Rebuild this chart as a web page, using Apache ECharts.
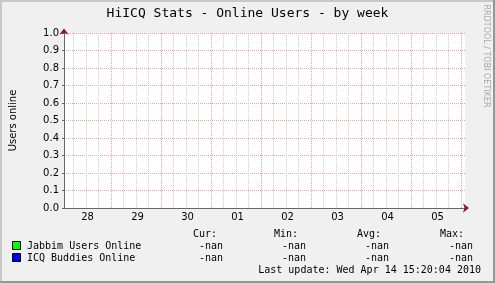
<!DOCTYPE html>
<html>
<head>
<meta charset="utf-8">
<script src="https://cdn.jsdelivr.net/npm/echarts@6/dist/echarts.min.js"></script>
<style>
html,body{margin:0;padding:0;background:#F0F0F0;}
#c{width:495px;height:283px;}
</style>
</head>
<body>
<div id="c"></div>
<script>
// ---- data (x in days from the first midnight shown) ----
const titleText = 'HiICQ Stats - Online Users - by week';
const yAxisName = 'Users online';
const xMin = 0.06;
const xMax = 8.08;
const xLabels = ['28', '29', '30', '01', '02', '03', '04', '05'];
const xLabelPos = [0.53, 1.53, 2.53, 3.53, 4.53, 5.53, 6.53, 7.53];
const dayTicks = [1, 2, 3, 4, 5, 6, 7, 8];
const minorTicks = [0.25, 0.5, 0.75, 1.25, 1.5, 1.75, 2.25, 2.5, 2.75, 3.25, 3.5, 3.75,
  4.25, 4.5, 4.75, 5.25, 5.5, 5.75, 6.25, 6.5, 6.75, 7.25, 7.5, 7.75];
const yMin = 0, yMax = 1, yStep = 0.1;
const seriesNames = ['Jabbim Users Online', 'ICQ Buddies Online'];
const seriesColors = ['#00ff00', '#0000ff'];
const jabbimValues = [];   // all values are NaN
const icqValues = [];      // all values are NaN
const statHeaders = ['Cur:', 'Min:', 'Avg:', 'Max:'];
const jabbimStats = ['-nan', '-nan', '-nan', '-nan'];
const icqStats = ['-nan', '-nan', '-nan', '-nan'];
const lastUpdate = 'Last update: Wed Apr 14 15:20:04 2010';
const watermark = 'RRDTOOL / TOBI OETIKER';

// ---- layout ----
const MONO = 'DejaVu Sans Mono';
const SANS = 'DejaVu Sans';
const headerRight = [217, 298, 381, 464];
const valueRight = [223, 306, 389, 473];
const rowsY = [246, 258];
const statsRows = [jabbimStats, icqStats];

const chart = echarts.init(document.getElementById('c'), null, {renderer: 'canvas'});

const graphics = [];
// 3D-ish border
graphics.push({type: 'rect', shape: {x: 0, y: 0, width: 495, height: 2}, style: {fill: '#C8C8C8'}, z: 100});
graphics.push({type: 'rect', shape: {x: 0, y: 0, width: 2, height: 283}, style: {fill: '#C8C8C8'}, z: 100});
graphics.push({type: 'rect', shape: {x: 0, y: 281, width: 495, height: 2}, style: {fill: '#969696'}, z: 101});
graphics.push({type: 'rect', shape: {x: 493, y: 0, width: 2, height: 283}, style: {fill: '#969696'}, z: 101});
// title
graphics.push({type: 'text', x: 247.5, y: 14, style: {text: titleText, font: '13px "' + MONO + '"', fill: '#000', align: 'center', verticalAlign: 'middle'}});
// watermark
graphics.push({type: 'text', x: 486, y: 56, rotation: -Math.PI / 2, style: {text: watermark, font: '8px "' + SANS + '"', fill: '#a8a8a8', align: 'center', verticalAlign: 'middle'}});
// stat headers
statHeaders.forEach((h, i) => {
  graphics.push({type: 'text', x: headerRight[i], y: 234, style: {text: h, font: '10px "' + MONO + '"', fill: '#000', align: 'right', verticalAlign: 'middle'}});
});
// legend rows
seriesNames.forEach((name, r) => {
  graphics.push({type: 'rect', shape: {x: 12.5, y: rowsY[r] - 4.5, width: 8, height: 8}, style: {fill: seriesColors[r], stroke: '#000', lineWidth: 1}});
  graphics.push({type: 'text', x: 27, y: rowsY[r], style: {text: name, font: '10px "' + MONO + '"', fill: '#000', align: 'left', verticalAlign: 'middle'}});
  statsRows[r].forEach((v, i) => {
    graphics.push({type: 'text', x: valueRight[i], y: rowsY[r], style: {text: v, font: '10px "' + MONO + '"', fill: '#000', align: 'right', verticalAlign: 'middle'}});
  });
});
graphics.push({type: 'text', x: 481, y: 270, style: {text: lastUpdate, font: '10px "' + MONO + '"', fill: '#000', align: 'right', verticalAlign: 'middle'}});

const gridSeries = (ticks, color) => ({
  type: 'line', xAxisIndex: 0, yAxisIndex: 0, data: [], silent: true, z: 1,
  markLine: {
    silent: true, symbol: ['none', 'none'], animation: false,
    label: {show: false},
    lineStyle: {color: color, width: 1, type: [1, 1]},
    emphasis: {disabled: true},
    data: ticks.map(v => ({xAxis: v}))
  }
});

const option = {
  backgroundColor: '#F0F0F0',
  animation: false,
  grid: {left: 64, right: 30, top: 33, bottom: 75, show: true, backgroundColor: '#ffffff', borderWidth: 0,
         containLabel: false, outerBoundsMode: 'none'},
  xAxis: [
    {
      type: 'value', min: xMin, max: xMax, position: 'bottom',
      axisLine: {show: true, onZero: false, lineStyle: {color: '#666666', width: 1}},
      axisTick: {show: false},
      splitLine: {show: false},
      axisLabel: {
        customValues: xLabelPos,
        formatter: (v) => { const i = xLabelPos.findIndex(p => Math.abs(p - v) < 1e-6); return i >= 0 ? xLabels[i] : ''; },
        fontFamily: SANS, fontSize: 10, color: '#000', margin: 4
      },
      z: 3
    },
    {
      type: 'value', min: xMin, max: xMax, position: 'bottom',
      axisLine: {show: true, onZero: false, symbol: ['none', 'arrow'], symbolSize: [7, 6], symbolOffset: [0, 4], lineStyle: {color: '#8b1a1a', width: 0}},
      axisLabel: {show: false}, axisTick: {show: false}, splitLine: {show: false},
      z: 3
    }
  ],
  yAxis: [
    {
      type: 'value', min: yMin, max: yMax, interval: yStep, position: 'left',
      name: yAxisName, nameLocation: 'middle', nameGap: 46,
      nameTextStyle: {fontFamily: SANS, fontSize: 10, color: '#000'},
      axisLine: {show: true, onZero: false, lineStyle: {color: '#666666', width: 1}},
      axisTick: {show: true, length: 2, lineStyle: {color: '#666666'}},
      axisLabel: {formatter: (v) => v.toFixed(1), fontFamily: SANS, fontSize: 10, color: '#000', margin: 5},
      splitLine: {show: true, lineStyle: {color: '#eea0a0', width: 1, type: [1, 1]}},
      z: 3
    },
    {
      type: 'value', min: yMin, max: yMax, position: 'left',
      axisLine: {show: true, onZero: false, symbol: ['none', 'arrow'], symbolSize: [7, 6], symbolOffset: [0, 4.5], lineStyle: {color: '#8b1a1a', width: 0}},
      axisLabel: {show: false}, axisTick: {show: false}, splitLine: {show: false},
      z: 3
    }
  ],
  series: [
    gridSeries(minorTicks, '#cfcfcf'),
    gridSeries(dayTicks, '#eea0a0'),
    {name: seriesNames[0], type: 'line', xAxisIndex: 0, yAxisIndex: 0, data: jabbimValues, showSymbol: false, lineStyle: {color: seriesColors[0]}},
    {name: seriesNames[1], type: 'line', xAxisIndex: 0, yAxisIndex: 0, data: icqValues, showSymbol: false, lineStyle: {color: seriesColors[1]}}
  ],
  graphic: graphics
};
chart.setOption(option);
</script>
</body>
</html>
